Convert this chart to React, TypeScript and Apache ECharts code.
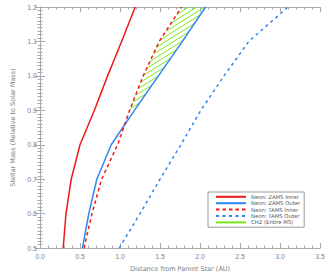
import React, { useEffect, useRef } from 'react';
import * as echarts from 'echarts';

// Stellar mass (solar masses) sampled for every curve
const massValues = [0.5, 0.6, 0.7, 0.8, 0.9, 1.0, 1.1, 1.2];
// Distances (AU) at each mass
const zamsInner = [0.29, 0.325, 0.39, 0.5, 0.68, 0.845, 1.02, 1.19];
const zamsOuter = [0.53, 0.61, 0.71, 0.89, 1.18, 1.48, 1.78, 2.07];
const tamsInner = [0.55, 0.65, 0.77, 0.97, 1.12, 1.29, 1.49, 1.77];
const tamsOuter = [0.99, 1.25, 1.5, 1.76, 2.01, 2.3, 2.61, 3.1];
// Continuously habitable zone drawn for masses from this value up
const chzMinMass = 0.9;

const seriesNames = [
  'Neon: ZAMS Inner',
  'Neon: ZAMS Outer',
  'Neon: TAMS Inner',
  'Neon: TAMS Outer',
  'CHZ (Entire MS)',
];

const RED = '#f01818';
const BLUE = '#2f86f2';
const GREEN = '#76e81a';
const AXIS = '#aaaaaa';
const LABEL = '#808080';

function pairs(xs: number[]) {
  return xs.map((x, i) => [x, massValues[i]]);
}

function makeHatch(): HTMLCanvasElement {
  const W = 8;
  const H = 5;
  const c = document.createElement('canvas');
  c.width = W;
  c.height = H;
  const ctx = c.getContext('2d')!;
  ctx.strokeStyle = GREEN;
  ctx.lineWidth = 1;
  for (let k = -1; k <= 1; k++) {
    ctx.beginPath();
    ctx.moveTo(-1, H + H / W + k * H);
    ctx.lineTo(W + 1, -H / W + k * H);
    ctx.stroke();
  }
  return c;
}

export default function App() {
  const ref = useRef<HTMLDivElement>(null);
  useEffect(() => {
    if (!ref.current) return;
    const chart = echarts.init(ref.current, undefined, { renderer: 'svg' });
    const hatch = makeHatch();

    const tickCommon = {
      axisLine: { show: true, lineStyle: { color: AXIS, width: 1 } },
      axisTick: { show: true, inside: true, length: 5, lineStyle: { color: AXIS } },
      minorTick: { show: true, length: 2.5, lineStyle: { color: AXIS } },
      splitLine: { show: false },
    };

    const chzIdx = massValues
      .map((m, i) => i)
      .filter((i) => massValues[i] >= chzMinMass - 1e-9);

    const option: any = {
      animation: false,
      backgroundColor: '#ffffff',
      grid: { left: 40, right: 12, top: 7, bottom: 28, containLabel: false },
      xAxis: [
        {
          type: 'value',
          min: 0,
          max: 3.5,
          interval: 0.5,
          position: 'bottom',
          name: 'Distance from Parent Star (AU)',
          nameLocation: 'middle',
          nameGap: 15,
          nameTextStyle: { fontSize: 6.5, color: LABEL, fontFamily: 'DejaVu Sans' },
          axisLabel: {
            fontSize: 7,
            color: LABEL,
            margin: 5,
            fontFamily: 'Liberation Sans',
            formatter: (v: number) => v.toFixed(1),
          },
          ...tickCommon,
          minorTick: { ...tickCommon.minorTick, splitNumber: 5 },
        },
        {
          type: 'value',
          min: 0,
          max: 3.5,
          interval: 0.5,
          position: 'top',
          axisLabel: { show: false },
          ...tickCommon,
          minorTick: { ...tickCommon.minorTick, splitNumber: 5 },
        },
      ],
      yAxis: [
        {
          type: 'value',
          min: 0.5,
          max: 1.2,
          interval: 0.1,
          position: 'left',
          name: 'Stellar Mass (Relative to Solar Mass)',
          nameLocation: 'middle',
          nameGap: 17,
          nameTextStyle: { fontSize: 6.5, color: LABEL, fontFamily: 'DejaVu Sans' },
          axisLabel: {
            fontSize: 7,
            color: LABEL,
            margin: 3,
            fontFamily: 'Liberation Sans',
            formatter: (v: number) => v.toFixed(1),
          },
          ...tickCommon,
          minorTick: { ...tickCommon.minorTick, splitNumber: 10 },
        },
        {
          type: 'value',
          min: 0.5,
          max: 1.2,
          interval: 0.1,
          position: 'right',
          axisLabel: { show: false },
          ...tickCommon,
          minorTick: { ...tickCommon.minorTick, splitNumber: 10 },
        },
      ],
      legend: {
        orient: 'vertical',
        left: 208,
        top: 192,
        data: seriesNames,
        itemWidth: 30,
        itemHeight: 7,
        itemGap: 0.8,
        padding: [2, 4, 2, 7],
        borderColor: '#999999',
        borderWidth: 1,
        backgroundColor: '#ffffff',
        itemStyle: { opacity: 0 },
        textStyle: { fontSize: 5.3, color: '#555555', fontFamily: 'DejaVu Sans' },
      },
      series: [
        {
          type: 'custom',
          name: 'chz-area',
          xAxisIndex: 0,
          yAxisIndex: 0,
          z: 1,
          clip: true,
          silent: true,
          data: [[0, 0]],
          renderItem: (params: any, api: any) => {
            const left = chzIdx.map((i) => api.coord([tamsInner[i], massValues[i]]));
            const right = chzIdx
              .slice()
              .reverse()
              .map((i) => api.coord([zamsOuter[i], massValues[i]]));
            return {
              type: 'polygon',
              shape: { points: left.concat(right) },
              style: {
                fill: { image: hatch, repeat: 'repeat' },
                stroke: null,
              },
            };
          },
        },
        {
          type: 'line',
          name: seriesNames[0],
          data: pairs(zamsInner),
          showSymbol: false,
          symbol: 'none',
          z: 3,
          lineStyle: { color: RED, width: 1.5 },
          itemStyle: { color: RED },
        },
        {
          type: 'line',
          name: seriesNames[1],
          data: pairs(zamsOuter),
          showSymbol: false,
          symbol: 'none',
          z: 3,
          lineStyle: { color: BLUE, width: 1.5 },
          itemStyle: { color: BLUE },
        },
        {
          type: 'line',
          name: seriesNames[2],
          data: pairs(tamsInner),
          showSymbol: false,
          symbol: 'none',
          z: 3,
          lineStyle: { color: RED, width: 1.5, type: [3.5, 3] },
          itemStyle: { color: RED },
        },
        {
          type: 'line',
          name: seriesNames[3],
          data: pairs(tamsOuter),
          showSymbol: false,
          symbol: 'none',
          z: 3,
          lineStyle: { color: BLUE, width: 1.5, type: [3, 3.5] },
          itemStyle: { color: BLUE },
        },
        {
          type: 'line',
          name: seriesNames[4],
          data: [],
          showSymbol: false,
          symbol: 'none',
          lineStyle: { color: GREEN, width: 1.5 },
          itemStyle: { color: GREEN },
        },
      ],
    };
    chart.setOption(option);
    return () => chart.dispose();
  }, []);
  return (
    <div
      ref={ref}
      style={{ position: 'fixed', left: 0, top: 0, width: 332, height: 277 }}
    />
  );
}
